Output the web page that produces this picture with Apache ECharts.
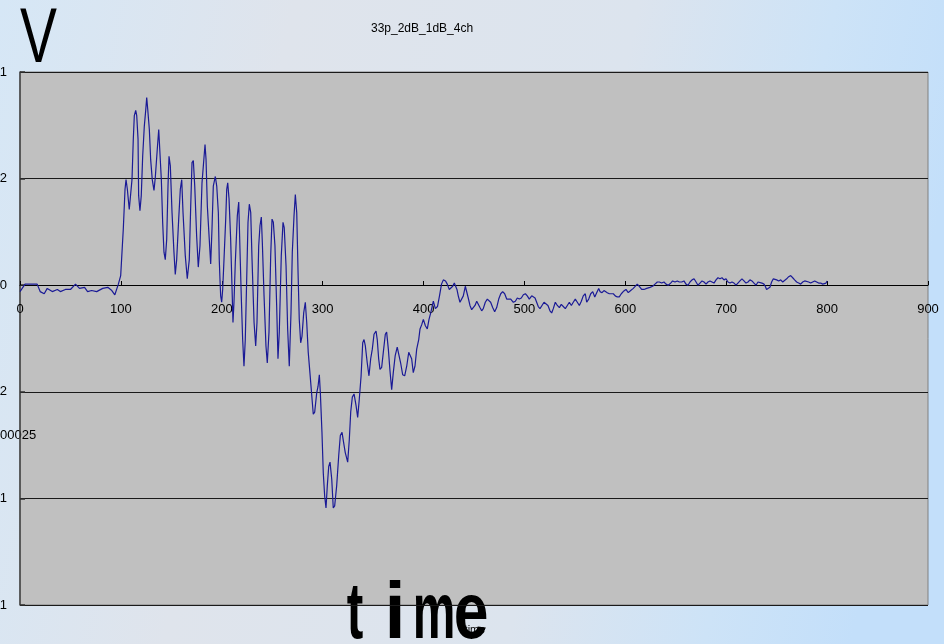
<!DOCTYPE html>
<html>
<head>
<meta charset="utf-8">
<script src="https://cdn.jsdelivr.net/npm/echarts@6/dist/echarts.min.js"></script>
<style>
  html, body { margin: 0; padding: 0; }
  #main { width: 944px; height: 644px; }
</style>
</head>
<body>
<div id="main"></div>
<script>
const TITLE = '33p_2dB_1dB_4ch'
const X_TICKS = { min: 0, max: 900, step: 100 }
// y axis: one unit per gridline, labels as they show (cut off at the left edge)
const Y_TICKS = [2, 1, 0, -1, -2, -3]
const Y_LABELS = ['1', '2', '0', '2', '1', '1']

// [time, V]
const SAMPLES = [
  [0, -0.06], [5, 0.01], [10, 0.01], [17, 0.01], [20, -0.06], [24, -0.08], [27, -0.03], [32, -0.06],
  [37, -0.04], [40, -0.06], [45, -0.04], [50, -0.04], [55, 0.01], [59, -0.03], [64, -0.02], [67, -0.06],
  [71, -0.05], [76, -0.06], [82, -0.03], [87, -0.02], [91, -0.05], [94, -0.09], [97.5, 0.01], [99.8, 0.09],
  [102.4, 0.53], [104.1, 0.9], [105.1, 0.99], [106.4, 0.9], [108.3, 0.71], [109.7, 0.7], [111, 0.99], [112.3, 1.37],
  [113.3, 1.59], [114.7, 1.64], [115.7, 1.59], [117, 1.37], [117.6, 0.84], [118.9, 0.7], [120.2, 0.84], [121.6, 1.21],
  [123.2, 1.49], [124.6, 1.64], [125.6, 1.76], [126.6, 1.65], [128.2, 1.46], [129.5, 1.18], [131.1, 0.99], [132.8, 0.89],
  [134.1, 1.01], [136.1, 1.28], [137.5, 1.46], [138.8, 1.46], [140.1, 0.99], [141.4, 0.59], [142.7, 0.31], [144, 0.24],
  [145.4, 0.43], [146.7, 0.93], [147.7, 1.21], [149, 1.12], [150.7, 0.68], [152.6, 0.31], [153.9, 0.1], [155.3, 0.24],
  [157.3, 0.62], [158.9, 0.9], [160.3, 0.99], [161.6, 0.68], [163.8, 0.28], [165.8, 0.06], [167.8, 0.24], [169.2, 0.74],
  [170.5, 1.15], [171.8, 1.17], [173.2, 0.93], [175.1, 0.46], [176.7, 0.17], [178.4, 0.37], [180.4, 0.96], [182.4, 1.2],
  [183.4, 1.32], [184.4, 1.18], [185.7, 0.74], [187.6, 0.43], [189, 0.2], [190.3, 0.53], [191.6, 0.93], [193.6, 1.02],
  [195, 0.93], [196.6, 0.68], [197.5, 0.24], [198.2, 0.06], [198.9, -0.1], [199.9, -0.16], [200.9, -0.04], [202.2, 0.24],
  [203.9, 0.62], [204.9, 0.9], [205.9, 0.96], [207.2, 0.81], [208.8, 0.43], [210.2, -0.04], [211.1, -0.35], [212.1, -0.16],
  [213.4, 0.21], [215.4, 0.65], [216.8, 0.78], [218.1, 0.31], [219.4, -0.13], [220.7, -0.51], [222, -0.76], [223.3, -0.51],
  [224.7, 0.06], [226, 0.59], [227.3, 0.76], [228.7, 0.68], [230, 0.24], [232, -0.35], [233.6, -0.57], [234.9, -0.35],
  [236.6, 0.37], [237.9, 0.56], [239.2, 0.64], [240.2, 0.4], [241.9, -0.1], [243.8, -0.57], [245.1, -0.73], [246.8, -0.44],
  [248.5, 0.28], [249.8, 0.62], [251.1, 0.59], [252.7, 0.37], [254.4, -0.19], [255.7, -0.69], [257, -0.44], [259, 0.28],
  [260.7, 0.59], [261.9, 0.54], [263.7, 0.18], [265.3, -0.41], [266.9, -0.76], [268.6, -0.26], [269.9, 0.31], [271.6, 0.65],
  [272.9, 0.85], [274.3, 0.68], [275.6, 0.12], [276.8, -0.32], [278.2, -0.54], [279.5, -0.48], [281.2, -0.26], [282.8, -0.16],
  [284.2, -0.35], [285.7, -0.63], [287.7, -0.86], [290.7, -1.21], [292.1, -1.19], [294.1, -1.01], [295.4, -0.95], [296.7, -0.84],
  [297.7, -1.01], [299.3, -1.38], [300.6, -1.76], [302, -1.98], [303.3, -2.09], [304.6, -1.88], [306, -1.7], [307.3, -1.66],
  [309, -1.82], [310.5, -2.09], [311.9, -2.07], [313.9, -1.88], [315.9, -1.6], [317.5, -1.41], [319.2, -1.38], [320.5, -1.46],
  [322.4, -1.57], [324.8, -1.66], [326.4, -1.45], [327.8, -1.19], [329.4, -1.05], [331.1, -1.02], [333.1, -1.13], [334.7, -1.24],
  [336.3, -1.07], [338.1, -0.85], [339.7, -0.54], [341, -0.51], [342.3, -0.57], [344.2, -0.73], [345.9, -0.85], [347.6, -0.69],
  [349.2, -0.6], [350.9, -0.46], [352.9, -0.43], [354.1, -0.51], [355.5, -0.69], [356.8, -0.79], [358.5, -0.77], [360.1, -0.63],
  [362.1, -0.46], [363.4, -0.44], [365.1, -0.6], [366.7, -0.8], [368.4, -0.98], [370, -0.82], [371.9, -0.66], [373.9, -0.58],
  [375.4, -0.58], [377.3, -0.73], [379.3, -0.84], [381.3, -0.85], [383.3, -0.76], [385.3, -0.63], [386.5, -0.62], [388.2, -0.69],
  [389.8, -0.82], [391.5, -0.76], [393.2, -0.6], [395.2, -0.51], [396.5, -0.41], [398.2, -0.37], [399.8, -0.32], [401.8, -0.38],
  [403.7, -0.41], [405.4, -0.32], [407.1, -0.26], [409.7, -0.15], [411.7, -0.22], [413.8, -0.2], [415.8, -0.1], [417.8, 0.01],
  [419.6, 0.05], [421.8, 0.04], [423.5, 0.01], [425.5, -0.04], [427.2, -0.03], [428.9, -0.01], [430.5, 0.02], [431.8, 0.03],
  [433.1, -0.04], [434.4, -0.1], [436.1, -0.16], [437.8, -0.16], [439.4, -0.1], [441.4, -0.01], [442.8, -0.02], [444.3, -0.12],
  [446, -0.19], [447.7, -0.23], [449.3, -0.23], [451, -0.19], [452.7, -0.15], [454.3, -0.15], [455.9, -0.21], [457.6, -0.24],
  [459.2, -0.22], [461.2, -0.16], [463.2, -0.13], [464.9, -0.12], [466.5, -0.16], [468.5, -0.21], [470.5, -0.25], [472.5, -0.21],
  [474.5, -0.13], [476.5, -0.08], [478.4, -0.06], [480.4, -0.08], [482.4, -0.13], [484.4, -0.13], [486.4, -0.13], [489, -0.16],
  [491, -0.15], [492.9, -0.12], [494.9, -0.13], [496.9, -0.12], [498.9, -0.09], [500.9, -0.08], [502.8, -0.1], [504.8, -0.13],
  [507.2, -0.1], [508.8, -0.09], [510.5, -0.12], [512.1, -0.16], [513.7, -0.2], [515.4, -0.22], [517.4, -0.19], [519.4, -0.16],
  [521.3, -0.15], [523.3, -0.19], [525.3, -0.24], [527, -0.26], [528.6, -0.22], [530.6, -0.16], [532.6, -0.19], [534.6, -0.21],
  [536.5, -0.18], [538.5, -0.2], [540.5, -0.22], [542.5, -0.19], [544.5, -0.16], [546.5, -0.19], [548.4, -0.16], [550.4, -0.13],
  [552.4, -0.16], [554.4, -0.19], [556.4, -0.15], [558.3, -0.1], [560.3, -0.08], [561.7, -0.16], [563.7, -0.13], [565.7, -0.08],
  [567.7, -0.06], [569.7, -0.11], [571.6, -0.07], [573.6, -0.03], [574.9, -0.06], [576.9, -0.07], [578.8, -0.05], [580.5, -0.04],
  [582.1, -0.07], [584.1, -0.08], [586.1, -0.08], [588.1, -0.08], [590, -0.1], [592, -0.11], [594, -0.11], [596, -0.08],
  [597.9, -0.06], [600.6, -0.04], [602.9, -0.07], [605.3, -0.05], [607.9, -0.03], [609.8, -0.02], [611.8, 0.01], [613.8, -0.01],
  [616.2, -0.04], [618.5, -0.04], [621.2, -0.03], [624.4, -0.02], [627.1, -0.01], [629.4, 0.01], [631.7, 0.03], [633.7, 0.03],
  [636, 0.02], [638.3, 0.03], [640.3, 0.01], [642.6, 0], [644.9, 0.02], [646.9, 0.04], [649.2, 0.03], [651.5, 0.04],
  [653.5, 0.03], [655.9, 0.03], [658.1, 0.04], [660.1, 0.01], [662.1, 0], [664.1, 0.03], [666.1, 0.05], [668.1, 0.06],
  [670.1, 0.03], [672, 0], [674, 0.02], [676, 0.04], [678, 0.03], [680, 0.01], [681.9, 0.03], [683.9, 0.04],
  [685.9, 0.03], [687.9, 0.02], [689.9, 0.05], [691.8, 0.07], [693.8, 0.06], [695.8, 0.07], [697.8, 0.05], [699.8, 0.06],
  [701.7, 0.03], [703.7, 0.02], [705.7, 0.03], [707.7, 0.02], [709.7, 0], [711.6, 0.02], [713.6, 0.04], [715.6, 0.06],
  [717.6, 0.04], [719.6, 0.02], [721.6, 0.03], [723.5, 0.05], [725.5, 0.04], [727.5, 0.02], [729.5, 0], [731.5, 0.03],
  [733.4, 0.03], [735.4, 0.02], [737.4, 0.01], [738.7, -0.01], [740, -0.04], [741.7, -0.05], [743.3, -0.02], [745, 0.03],
  [746.7, 0.06], [748.4, 0.07], [750, 0.05], [752, 0.04], [754, 0.05], [756, 0.03], [757.9, 0.04], [759.9, 0.06],
  [761.9, 0.08], [763.9, 0.09], [765.9, 0.07], [767.8, 0.05], [769.8, 0.03], [771.8, 0.02], [773.8, 0.01], [775.8, 0.03],
  [777.8, 0.04], [779.7, 0.05], [781.7, 0.03], [783.7, 0.02], [785.7, 0.03], [787.7, 0.04], [789.6, 0.03], [791.6, 0.02],
  [793.6, 0.02], [795.6, 0.01], [796.9, 0], [798.9, 0.02], [800, 0.04],
]

const FONT = '"Liberation Sans", Arial, sans-serif'

// the big hand-placed axis letters: char, centre x, horizontal squeeze
const BIG_TIME = [['t', 355, 0.62], ['i', 395, 0.95], ['m', 434, 0.6], ['e', 471, 0.78]]

function render(chart) {
  const bigTime = BIG_TIME.map(([ch, x, sx]) => ({
    type: 'text', x, y: 616, scaleX: sx,
    style: {
      text: ch, fontSize: 80, fontWeight: 'bold', fontFamily: FONT,
      fill: '#000', align: 'center', verticalAlign: 'middle',
    },
  }))

  chart.setOption({
    animation: false,
    backgroundColor: {
      type: 'linear', x: 0, y: 0, x2: 1, y2: 0.3,
      colorStops: [
        { offset: 0, color: '#d6e7f6' },
        { offset: 0.3, color: '#dfe4ec' },
        { offset: 0.65, color: '#dce4ee' },
        { offset: 0.85, color: '#cde3f7' },
        { offset: 1, color: '#c3dffa' },
      ],
    },
    title: {
      text: TITLE,
      left: 366,
      top: 18,
      textStyle: { fontSize: 12, fontWeight: 'normal', color: '#000', fontFamily: FONT },
    },
    grid: {
      left: 20, right: 16, top: 72, bottom: 39,
      containLabel: false,
      outerBoundsMode: 'none',
      show: true,
      backgroundColor: '#c0c0c0',
      borderColor: '#808080',
      borderWidth: 1,
    },
    xAxis: {
      type: 'value',
      min: X_TICKS.min,
      max: X_TICKS.max,
      interval: X_TICKS.step,
      // sits on the zero line, labels just under it
      offset: -320,
      axisLine: { onZero: false, lineStyle: { color: '#000', width: 1 } },
      axisTick: { inside: true, length: 4, lineStyle: { color: '#000' } },
      axisLabel: { margin: 18, fontSize: 13, color: '#000', fontFamily: FONT },
      splitLine: { show: false },
    },
    yAxis: {
      type: 'value',
      min: Y_TICKS[Y_TICKS.length - 1],
      max: Y_TICKS[0],
      interval: 1,
      axisLine: { show: true, lineStyle: { color: '#404040', width: 1.5 } },
      axisTick: { show: true, inside: true, length: 5, lineStyle: { color: '#303030', width: 1.5 } },
      axisLabel: {
        margin: 13,
        fontSize: 13,
        color: '#000',
        fontFamily: FONT,
        formatter: (v) => Y_LABELS[Y_TICKS.indexOf(Math.round(v))] || '',
      },
      splitLine: { show: true, lineStyle: { color: '#1a1a1a', width: 1 } },
    },
    graphic: [
      {
        type: 'text', x: 38.5, y: 40, scaleX: 0.71,
        style: { text: 'V', fontSize: 78, fontFamily: FONT, fill: '#000', align: 'center', verticalAlign: 'middle' },
      },
      ...bigTime,
      {
        type: 'text', x: 475, y: 630,
        style: { text: 'time', fontSize: 11, fontFamily: FONT, fill: '#000', align: 'center', verticalAlign: 'middle' },
      },
      {
        type: 'text', x: 0, y: 435,
        style: { text: '00025', fontSize: 13, fontFamily: FONT, fill: '#000', align: 'left', verticalAlign: 'middle' },
      },
    ],
    series: [
      {
        name: 'V',
        type: 'line',
        data: SAMPLES,
        showSymbol: false,
        clip: true,
        lineStyle: { color: '#1a1a96', width: 1.2 },
      },
    ],
  })
}

function main() {
  const chart = echarts.init(document.getElementById('main'), null, { renderer: 'canvas' })
  render(chart)
}

window.onload = main
</script>
</body>
</html>
